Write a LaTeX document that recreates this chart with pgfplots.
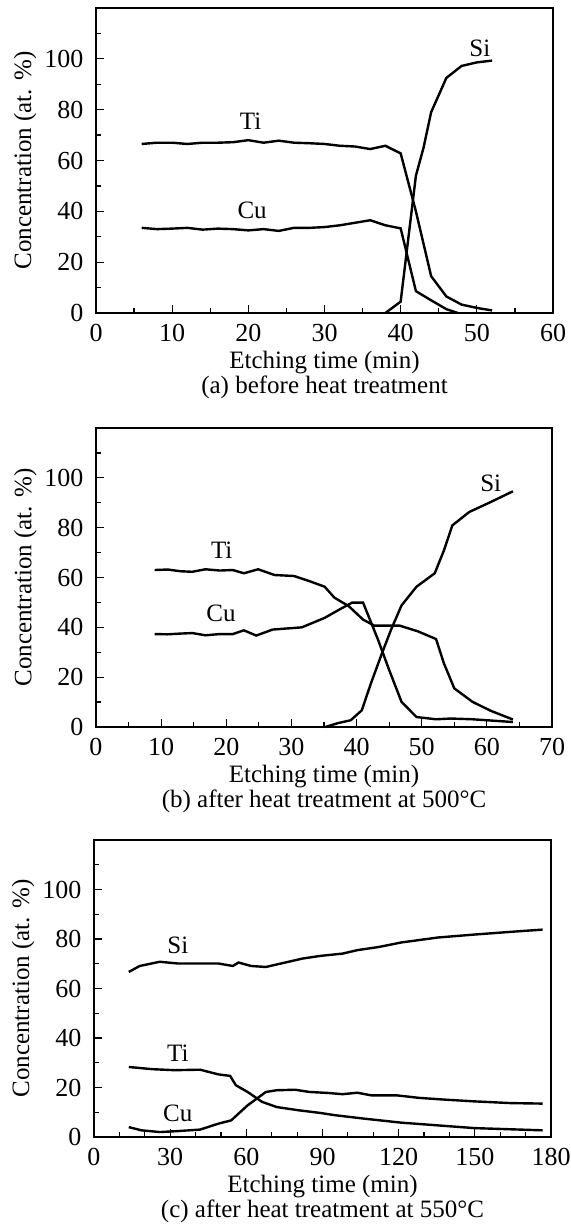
\documentclass[border=0pt]{standalone}
\usepackage{fontspec}
\setmainfont{Liberation Serif}
\usepackage{pgfplots}
\pgfplotsset{compat=1.18}
\pgfplotsset{
 cur/.style={black, mark=none, line width=1.2pt},
 pan/.style={
  scale only axis,
  anchor=north west,
  ymin=0, ymax=120,
  ytick={0,20,...,100},
  minor ytick={10,30,...,110},
  tick align=inside,
  tick pos=left,
  major tick length=4pt, minor tick length=2.5pt,
  every tick/.style={black, line width=0.6pt},
  axis line style={line width=0.8pt},
  /pgf/number format/assume math mode=true,
  tick label style={font=\fontsize{13}{15}\selectfont},
  xlabel={Etching time (min)},
  ylabel={Concentration (at. \%)},
  xlabel style={at={(axis description cs:0.5,0)}, anchor=center, yshift=-25pt},
  ylabel style={at={(axis description cs:-0.155,0.5)}, anchor=center},
  xticklabel style={yshift=-1pt},
  yticklabel style={xshift=-2pt},
  clip=false,
 }
}
\begin{document}
\fontsize{12.5}{14.5}\selectfont
\begin{tikzpicture}
\path[use as bounding box] (0,0) rectangle (285.5pt,-614.5pt);
% ---------------- (a)
\begin{axis}[pan, name=a, at={(48pt,-4pt)}, width=228.5pt, height=152.5pt,
  xmin=0, xmax=60, xtick={0,10,...,60}, minor xtick={5,15,...,55}]
\addplot[cur] coordinates {(6,66.5) (8,67) (10,67) (12,66.5) (14,67) (16,67) (18,67.2) (20,68) (22,67) (24,67.8) (26,67) (28,66.8) (30,66.5) (32,65.8) (34,65.5) (36,64.5) (38,65.8) (40,62.8) (42,40) (44,14.5) (46,6.5) (48,3.3) (50,2) (52,1)};
\addplot[cur] coordinates {(6,33.5) (8,33) (10,33.2) (12,33.5) (14,32.8) (16,33.2) (18,33) (20,32.5) (22,33) (24,32.3) (26,33.5) (28,33.5) (30,33.8) (32,34.5) (34,35.5) (36,36.5) (38,34.5) (40,33.3) (42,8.6) (44,5) (46,1.5) (47.5,0)};
\addplot[cur] coordinates {(38,0) (40,4.5) (42,54) (43,65) (44,79) (46,92.5) (48,97.2) (50,98.6) (52,99.3)};
\node at (axis cs:20.3,75.5) {Ti};
\node at (axis cs:20.5,40.4) {Cu};
\node at (axis cs:50.4,104) {Si};
\end{axis}
\node at ([yshift=-37pt]a.south) {(a) before heat treatment};
% ---------------- (b)
\begin{axis}[pan, name=b, at={(48pt,-214pt)}, width=228pt, height=149.5pt,
  xmin=0, xmax=70, xtick={0,10,...,70}, minor xtick={5,15,...,65}]
\addplot[cur] coordinates {(9,63) (11,63.2) (13,62.5) (14.8,62.3) (16.8,63.3) (19,62.8) (21,63) (22.7,61.7) (24.9,63.3) (27.4,61) (30.4,60.6) (32.7,58.6) (35.1,56.3) (36.6,51.9) (38.8,48.5) (41,43.1) (42.7,40.7) (46.6,40.7) (49.4,38.4) (52.2,35.3) (53.4,25.6) (55,15.5) (57.8,10.1) (60.6,6.5) (64,3)};
\addplot[cur] coordinates {(9,37.3) (11,37.2) (13,37.5) (14.8,37.7) (16.8,36.8) (19,37.3) (21,37.3) (22.7,38.8) (24.6,36.7) (27.1,39.1) (31.6,40) (35.1,43.8) (37.4,47.2) (39.3,49.9) (41,49.9) (43.3,35) (45,22.9) (46.9,10.1) (49.2,4) (52.2,3.1) (54.5,3.4) (57.8,3.1) (64,2)};
\addplot[cur] coordinates {(35.2,0) (37.2,1.6) (39.1,2.7) (40.8,6.7) (42.2,17.5) (43.9,29.6) (45.3,39.1) (46.9,48.8) (49.2,56.3) (52,61.7) (53.4,70.8) (54.7,80.9) (57.3,86.3) (60.6,90.3) (64,94.6)};
\node at (axis cs:19.3,70.8) {Ti};
\node at (axis cs:19.2,45.8) {Cu};
\node at (axis cs:60.6,97.7) {Si};
\end{axis}
\node at ([yshift=-37pt]b.south) {(b) after heat treatment at 500°C};
% ---------------- (c)
\begin{axis}[pan, name=c, at={(47pt,-420pt)}, width=228.5pt, height=148.5pt,
  xmin=0, xmax=180, xtick={0,30,...,180}, minor tick num=2]
\addplot[cur] coordinates {(13.7,66.7) (18,69.1) (25.9,70.8) (33.1,70.1) (49,70.1) (54.7,69.1) (56.9,70.5) (61.9,69.1) (67.7,68.7) (74.9,70.4) (82.1,72.1) (89.3,73.2) (97.9,74.1) (103.7,75.5) (112.3,76.8) (121,78.6) (135.4,80.6) (149.8,81.8) (164.2,82.9) (176.7,83.8)};
\addplot[cur] coordinates {(13.7,28.3) (23,27.4) (31.7,27) (41.8,27.2) (49,25.3) (53.6,24.7) (55.9,20.9) (60.5,18.2) (66.2,14.2) (72,12.1) (80.6,10.8) (89.3,9.7) (95,8.8) (106.6,7.4) (121,5.8) (135.4,4.7) (149.8,3.6) (176.7,2.7)};
\addplot[cur] coordinates {(13.7,4) (18.7,2.7) (25.9,2) (33.1,2.4) (41.8,3) (49,5.4) (54,6.7) (60.5,12.8) (67.7,18.2) (72,18.9) (79.2,19.1) (84.9,18.2) (92.2,17.8) (97.9,17.3) (103.7,17.9) (109.4,16.8) (119.5,16.8) (128.2,15.8) (138.2,15.1) (149.8,14.4) (164.2,13.7) (176.7,13.5)};
\node at (axis cs:33,77.5) {Si};
\node at (axis cs:33,33.7) {Ti};
\node at (axis cs:33,9.4) {Cu};
\end{axis}
\node at ([yshift=-37pt]c.south) {(c) after heat treatment at 550°C};
\end{tikzpicture}
\end{document}
